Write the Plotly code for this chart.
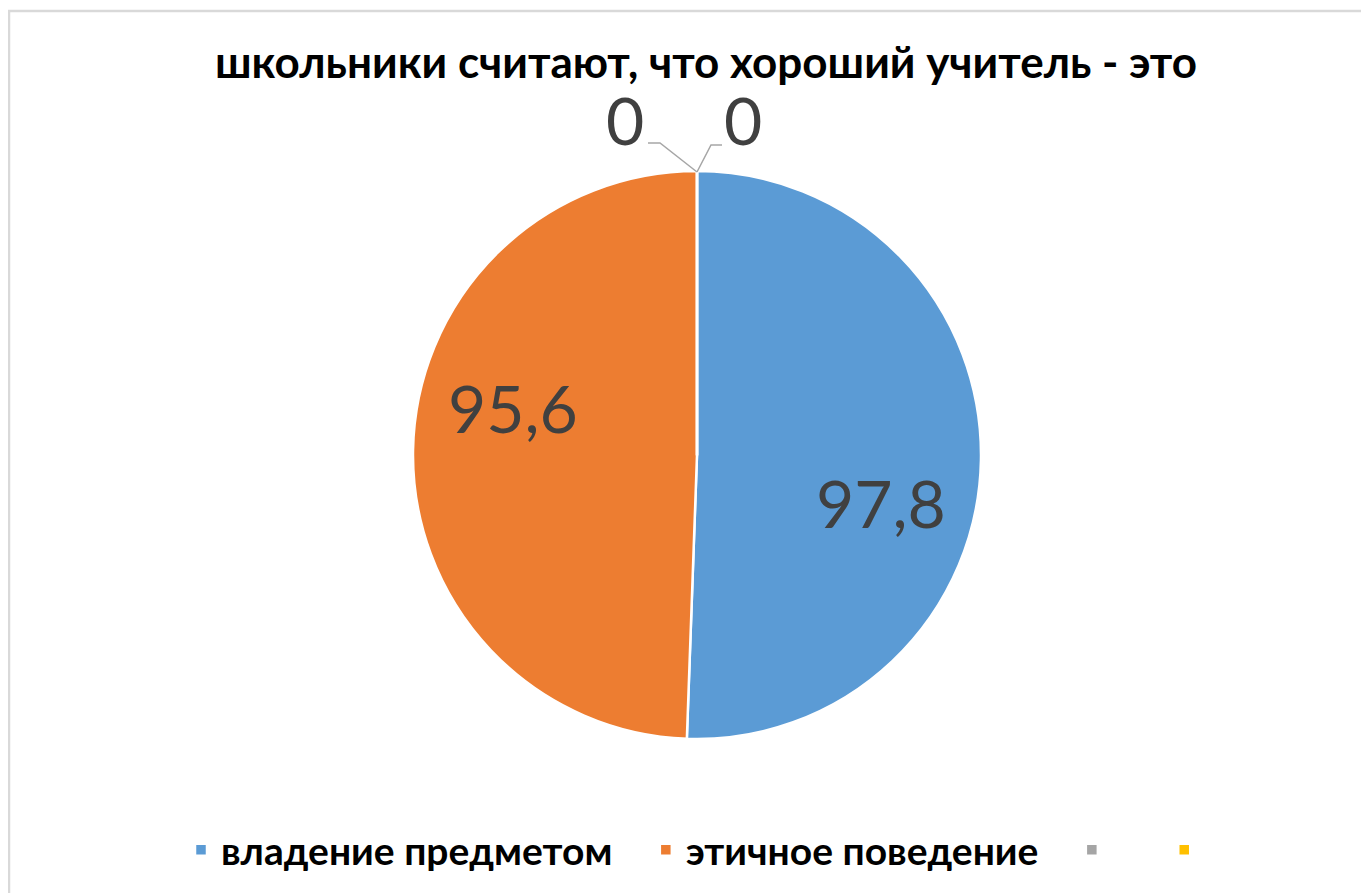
import plotly.graph_objects as go
import math

title = "школьники считают, что хороший учитель - это"
labels = ["владение предметом", "этичное поведение", "", ""]
values = [97.8, 95.6, 0, 0]
colors = ["#5b9bd5", "#ed7d31", "#a5a5a5", "#ffc000"]

W, H = 1369, 893
OFF = 8  # page body margin
cx, cy, R = 697, 455, 284  # pie centre / radius in page pixels

def px(x):
    return (x - OFF) / W

def py(y):
    return 1 - (y - OFF) / H

# legend entry names (padding keeps the entries spaced like the reference; empty names stay distinct)
NB = "\u00a0"
legend_names = [labels[0] + NB * 3, labels[1] + NB * 3, NB * 5, NB * 1]

fig = go.Figure()
fig.add_trace(go.Pie(
    labels=legend_names,
    values=values,
    sort=False,
    direction="clockwise",
    rotation=0,
    marker=dict(colors=colors, line=dict(color="white", width=2.5)),
    textinfo="none",
    domain=dict(x=[px(cx - R), px(cx + R)], y=[py(cy + R), py(cy - R)]),
    hoverinfo="label+value",
    showlegend=True,
))

label_font = dict(family="Lato", size=66, color="#404040")

# data labels for the two non-zero slices, placed along each slice (best-fit style)
annotations = []
total = sum(values)
start = 0.0
for v in values:
    frac = v / total
    if v > 0:
        mid = (start + frac / 2) * 360 + 13.5
        r = 0.67 * R
        x = cx + r * math.sin(math.radians(mid))
        y = cy - r * math.cos(math.radians(mid))
        annotations.append(dict(text=f"{v:.1f}".replace(".", ","), x=px(x), y=py(y),
                                xref="paper", yref="paper", showarrow=False,
                                xanchor="center", yanchor="middle", font=label_font))
    start += frac

# zero-value labels with leader lines
annotations += [
    dict(text=str(values[2]), x=px(625), y=py(119), xref="paper", yref="paper",
         showarrow=False, xanchor="center", yanchor="middle", font=label_font),
    dict(text=str(values[3]), x=px(743), y=py(119), xref="paper", yref="paper",
         showarrow=False, xanchor="center", yanchor="middle", font=label_font),
]

line_col = "#a6a6a6"
shapes = [
    dict(type="path", xref="paper", yref="paper",
         path=f"M {px(648)},{py(143)} L {px(660)},{py(143)} L {px(cx)},{py(cy - R + 1)}",
         line=dict(color=line_col, width=1.5)),
    dict(type="path", xref="paper", yref="paper",
         path=f"M {px(cx)},{py(cy - R + 1)} L {px(711)},{py(145)} L {px(722)},{py(145)}",
         line=dict(color=line_col, width=1.5)),
    dict(type="rect", xref="paper", yref="paper",
         x0=px(9), x1=1.02, y0=-0.02, y1=py(11),
         line=dict(color="#d9d9d9", width=2.5), layer="below"),
]

fig.update_layout(
    width=W, height=H,
    margin=dict(l=0, r=0, t=0, b=0),
    paper_bgcolor="white",
    plot_bgcolor="white",
    separators=", ",
    title=dict(text=f"<b>{title}</b>", x=px(706), xanchor="center",
               y=py(63), yanchor="middle",
               font=dict(family="Lato", size=44, color="#000000")),
    legend=dict(orientation="h", x=px(700), xanchor="center",
                y=py(850), yanchor="middle",
                font=dict(family="Lato", size=39, color="#000000", weight="bold"),
                traceorder="normal"),
    shapes=shapes,
    annotations=annotations,
)

fig.write_html("out.html")
